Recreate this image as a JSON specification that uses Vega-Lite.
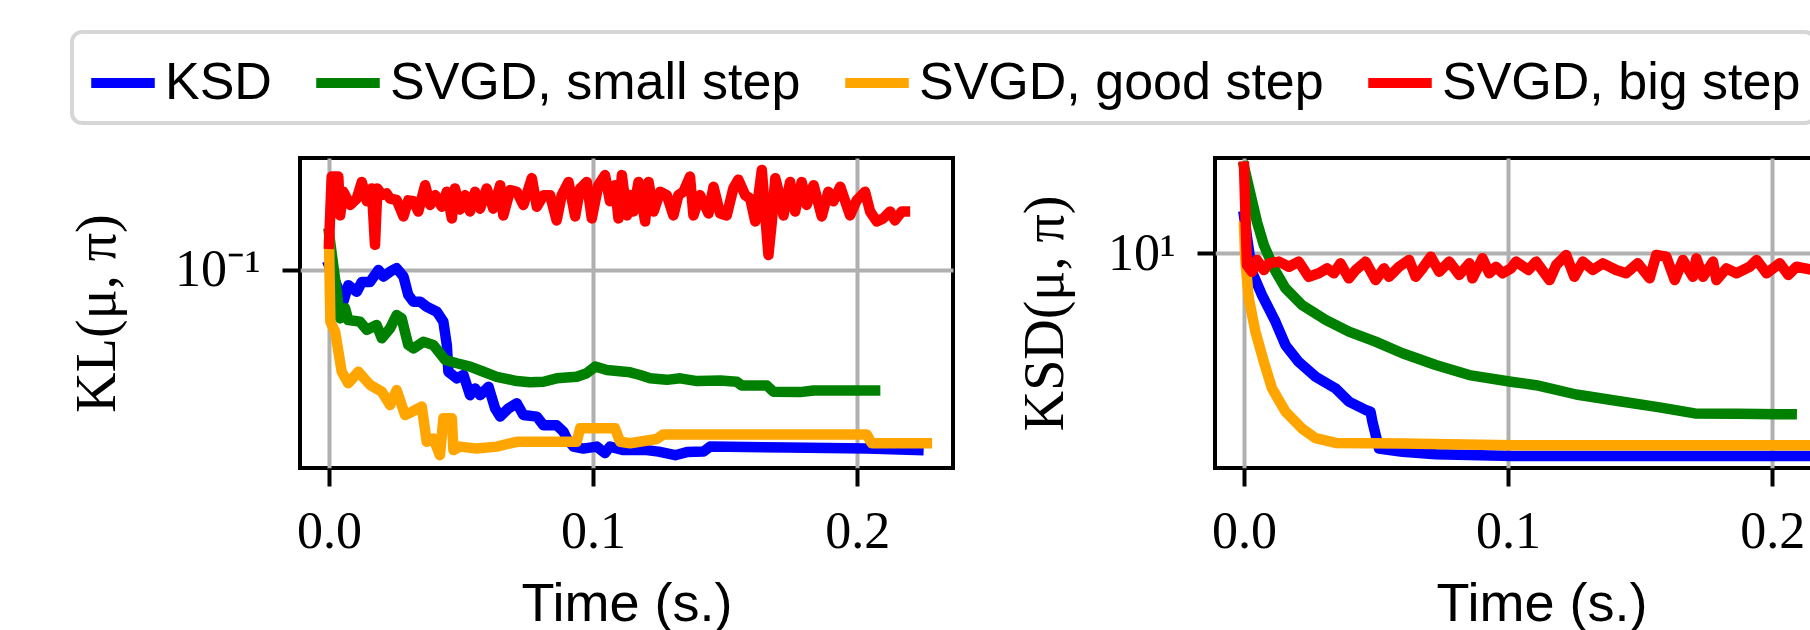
{
"$schema": "https://vega.github.io/schema/vega-lite/v6.json",
"background": "white",
"padding": {"left": 67, "top": 30, "right": -59, "bottom": 0},
"datasets": {
"kl": [
{"s":"KSD","t":0,"v":0.103},{"s":"KSD","t":0.0054,"v":0.0803},{"s":"KSD","t":0.0073,"v":0.090},{"s":"KSD","t":0.0105,"v":0.086},{"s":"KSD","t":0.0124,"v":0.092},{"s":"KSD","t":0.0155,"v":0.092},{"s":"KSD","t":0.0187,"v":0.100},{"s":"KSD","t":0.0206,"v":0.0955},{"s":"KSD","t":0.0231,"v":0.0988},{"s":"KSD","t":0.0256,"v":0.1012},{"s":"KSD","t":0.0282,"v":0.0955},{"s":"KSD","t":0.030,"v":0.0841},{"s":"KSD","t":0.0319,"v":0.0803},{"s":"KSD","t":0.0345,"v":0.0803},{"s":"KSD","t":0.037,"v":0.0775},{"s":"KSD","t":0.0408,"v":0.0749},{"s":"KSD","t":0.0433,"v":0.0699},{"s":"KSD","t":0.0446,"v":0.0595},{"s":"KSD","t":0.0452,"v":0.0494},{"s":"KSD","t":0.0484,"v":0.0472},{"s":"KSD","t":0.0509,"v":0.0483},{"s":"KSD","t":0.0534,"v":0.0420},{"s":"KSD","t":0.0553,"v":0.0440},{"s":"KSD","t":0.0572,"v":0.0420},{"s":"KSD","t":0.0604,"v":0.0445},{"s":"KSD","t":0.0629,"v":0.0383},{"s":"KSD","t":0.0648,"v":0.0362},{"s":"KSD","t":0.0679,"v":0.0383},{"s":"KSD","t":0.0711,"v":0.0397},{"s":"KSD","t":0.0736,"v":0.0366},{"s":"KSD","t":0.0787,"v":0.0362},{"s":"KSD","t":0.0812,"v":0.0341},{"s":"KSD","t":0.0862,"v":0.0341},{"s":"KSD","t":0.0888,"v":0.0326},{"s":"KSD","t":0.09,"v":0.0311},{"s":"KSD","t":0.0926,"v":0.0294},{"s":"KSD","t":0.0963,"v":0.0290},{"s":"KSD","t":0.1014,"v":0.0294},{"s":"KSD","t":0.1045,"v":0.0281},{"s":"KSD","t":0.1064,"v":0.0294},{"s":"KSD","t":0.1115,"v":0.0287},{"s":"KSD","t":0.1203,"v":0.0287},{"s":"KSD","t":0.1248,"v":0.0284},{"s":"KSD","t":0.1311,"v":0.0277},{"s":"KSD","t":0.1355,"v":0.0283},{"s":"KSD","t":0.1418,"v":0.0284},{"s":"KSD","t":0.1443,"v":0.0294},{"s":"KSD","t":0.1734,"v":0.0292},{"s":"KSD","t":0.2037,"v":0.0290},{"s":"KSD","t":0.2232,"v":0.0287},
{"s":"SVGD, small step","t":0,"v":0.129},{"s":"SVGD, small step","t":0.0029,"v":0.086},{"s":"SVGD, small step","t":0.0042,"v":0.0715},{"s":"SVGD, small step","t":0.0061,"v":0.0767},{"s":"SVGD, small step","t":0.0073,"v":0.0707},{"s":"SVGD, small step","t":0.0117,"v":0.0699},{"s":"SVGD, small step","t":0.0143,"v":0.0660},{"s":"SVGD, small step","t":0.018,"v":0.0683},{"s":"SVGD, small step","t":0.02,"v":0.0623},{"s":"SVGD, small step","t":0.0231,"v":0.0667},{"s":"SVGD, small step","t":0.0256,"v":0.0732},{"s":"SVGD, small step","t":0.0275,"v":0.0715},{"s":"SVGD, small step","t":0.030,"v":0.0595},{"s":"SVGD, small step","t":0.032,"v":0.0581},{"s":"SVGD, small step","t":0.0357,"v":0.0608},{"s":"SVGD, small step","t":0.0395,"v":0.0595},{"s":"SVGD, small step","t":0.044,"v":0.0536},{"s":"SVGD, small step","t":0.0484,"v":0.0524},{"s":"SVGD, small step","t":0.0534,"v":0.0512},{"s":"SVGD, small step","t":0.0585,"v":0.0494},{"s":"SVGD, small step","t":0.0635,"v":0.0477},{"s":"SVGD, small step","t":0.0711,"v":0.0463},{"s":"SVGD, small step","t":0.0761,"v":0.0459},{"s":"SVGD, small step","t":0.0812,"v":0.0461},{"s":"SVGD, small step","t":0.0862,"v":0.0472},{"s":"SVGD, small step","t":0.0938,"v":0.0477},{"s":"SVGD, small step","t":0.0976,"v":0.0489},{"s":"SVGD, small step","t":0.1008,"v":0.0512},{"s":"SVGD, small step","t":0.1052,"v":0.0500},{"s":"SVGD, small step","t":0.114,"v":0.0492},{"s":"SVGD, small step","t":0.1178,"v":0.0483},{"s":"SVGD, small step","t":0.1216,"v":0.0472},{"s":"SVGD, small step","t":0.1279,"v":0.0467},{"s":"SVGD, small step","t":0.133,"v":0.0472},{"s":"SVGD, small step","t":0.1394,"v":0.0463},{"s":"SVGD, small step","t":0.1482,"v":0.0465},{"s":"SVGD, small step","t":0.1544,"v":0.0461},{"s":"SVGD, small step","t":0.1563,"v":0.0449},{"s":"SVGD, small step","t":0.1658,"v":0.0449},{"s":"SVGD, small step","t":0.1683,"v":0.0430},{"s":"SVGD, small step","t":0.1784,"v":0.0429},{"s":"SVGD, small step","t":0.1835,"v":0.0434},{"s":"SVGD, small step","t":0.2068,"v":0.0434},
{"s":"SVGD, good step","t":0,"v":0.120},{"s":"SVGD, good step","t":0.0005,"v":0.0699},{"s":"SVGD, good step","t":0.0023,"v":0.0652},{"s":"SVGD, good step","t":0.0048,"v":0.0494},{"s":"SVGD, good step","t":0.0073,"v":0.0456},{"s":"SVGD, good step","t":0.0111,"v":0.0494},{"s":"SVGD, good step","t":0.0155,"v":0.0451},{"s":"SVGD, good step","t":0.02,"v":0.0430},{"s":"SVGD, good step","t":0.0231,"v":0.0392},{"s":"SVGD, good step","t":0.0256,"v":0.0435},{"s":"SVGD, good step","t":0.0288,"v":0.0366},{"s":"SVGD, good step","t":0.0313,"v":0.0374},{"s":"SVGD, good step","t":0.0351,"v":0.0388},{"s":"SVGD, good step","t":0.037,"v":0.0304},{"s":"SVGD, good step","t":0.0395,"v":0.0311},{"s":"SVGD, good step","t":0.042,"v":0.0277},{"s":"SVGD, good step","t":0.0433,"v":0.0358},{"s":"SVGD, good step","t":0.0465,"v":0.0358},{"s":"SVGD, good step","t":0.0471,"v":0.0287},{"s":"SVGD, good step","t":0.0496,"v":0.0294},{"s":"SVGD, good step","t":0.0559,"v":0.0290},{"s":"SVGD, good step","t":0.0635,"v":0.0294},{"s":"SVGD, good step","t":0.0711,"v":0.0304},{"s":"SVGD, good step","t":0.0938,"v":0.0304},{"s":"SVGD, good step","t":0.0951,"v":0.0334},{"s":"SVGD, good step","t":0.1083,"v":0.0334},{"s":"SVGD, good step","t":0.1102,"v":0.0304},{"s":"SVGD, good step","t":0.114,"v":0.0301},{"s":"SVGD, good step","t":0.1241,"v":0.0310},{"s":"SVGD, good step","t":0.1266,"v":0.0320},{"s":"SVGD, good step","t":0.2036,"v":0.0320},{"s":"SVGD, good step","t":0.2055,"v":0.0301},{"s":"SVGD, good step","t":0.2264,"v":0.0301},
{"s":"SVGD, big step","t":0,"v":0.120},{"s":"SVGD, big step","t":0.001,"v":0.191},{"s":"SVGD, big step","t":0.0035,"v":0.191},{"s":"SVGD, big step","t":0.0042,"v":0.146},{"s":"SVGD, big step","t":0.0054,"v":0.172},{"s":"SVGD, big step","t":0.008,"v":0.157},{"s":"SVGD, big step","t":0.0105,"v":0.164},{"s":"SVGD, big step","t":0.0124,"v":0.184},{"s":"SVGD, big step","t":0.0143,"v":0.161},{"s":"SVGD, big step","t":0.0162,"v":0.176},{"s":"SVGD, big step","t":0.0174,"v":0.119},{"s":"SVGD, big step","t":0.0183,"v":0.176},{"s":"SVGD, big step","t":0.020,"v":0.168},{"s":"SVGD, big step","t":0.0218,"v":0.170},{"s":"SVGD, big step","t":0.0231,"v":0.164},{"s":"SVGD, big step","t":0.0256,"v":0.1625},{"s":"SVGD, big step","t":0.0282,"v":0.145},{"s":"SVGD, big step","t":0.030,"v":0.162},{"s":"SVGD, big step","t":0.032,"v":0.161},{"s":"SVGD, big step","t":0.0338,"v":0.150},{"s":"SVGD, big step","t":0.0364,"v":0.180},{"s":"SVGD, big step","t":0.0383,"v":0.157},{"s":"SVGD, big step","t":0.0402,"v":0.168},{"s":"SVGD, big step","t":0.0427,"v":0.155},{"s":"SVGD, big step","t":0.0446,"v":0.172},{"s":"SVGD, big step","t":0.0465,"v":0.143},{"s":"SVGD, big step","t":0.0477,"v":0.176},{"s":"SVGD, big step","t":0.0496,"v":0.152},{"s":"SVGD, big step","t":0.0515,"v":0.168},{"s":"SVGD, big step","t":0.0534,"v":0.150},{"s":"SVGD, big step","t":0.0553,"v":0.172},{"s":"SVGD, big step","t":0.0572,"v":0.153},{"s":"SVGD, big step","t":0.0597,"v":0.176},{"s":"SVGD, big step","t":0.0622,"v":0.153},{"s":"SVGD, big step","t":0.0648,"v":0.180},{"s":"SVGD, big step","t":0.066,"v":0.146},{"s":"SVGD, big step","t":0.0686,"v":0.174},{"s":"SVGD, big step","t":0.0711,"v":0.172},{"s":"SVGD, big step","t":0.0736,"v":0.157},{"s":"SVGD, big step","t":0.0768,"v":0.189},{"s":"SVGD, big step","t":0.0787,"v":0.155},{"s":"SVGD, big step","t":0.0812,"v":0.168},{"s":"SVGD, big step","t":0.0837,"v":0.168},{"s":"SVGD, big step","t":0.0862,"v":0.141},{"s":"SVGD, big step","t":0.0881,"v":0.168},{"s":"SVGD, big step","t":0.0907,"v":0.184},{"s":"SVGD, big step","t":0.0932,"v":0.145},{"s":"SVGD, big step","t":0.0951,"v":0.176},{"s":"SVGD, big step","t":0.0976,"v":0.184},{"s":"SVGD, big step","t":0.0995,"v":0.143},{"s":"SVGD, big step","t":0.102,"v":0.180},{"s":"SVGD, big step","t":0.1045,"v":0.193},{"s":"SVGD, big step","t":0.1064,"v":0.161},{"s":"SVGD, big step","t":0.1083,"v":0.180},{"s":"SVGD, big step","t":0.1096,"v":0.143},{"s":"SVGD, big step","t":0.1109,"v":0.193},{"s":"SVGD, big step","t":0.1128,"v":0.146},{"s":"SVGD, big step","t":0.114,"v":0.168},{"s":"SVGD, big step","t":0.1153,"v":0.150},{"s":"SVGD, big step","t":0.1172,"v":0.184},{"s":"SVGD, big step","t":0.1197,"v":0.140},{"s":"SVGD, big step","t":0.121,"v":0.184},{"s":"SVGD, big step","t":0.1229,"v":0.150},{"s":"SVGD, big step","t":0.1254,"v":0.172},{"s":"SVGD, big step","t":0.1279,"v":0.168},{"s":"SVGD, big step","t":0.1304,"v":0.146},{"s":"SVGD, big step","t":0.1323,"v":0.168},{"s":"SVGD, big step","t":0.1342,"v":0.172},{"s":"SVGD, big step","t":0.1367,"v":0.191},{"s":"SVGD, big step","t":0.138,"v":0.146},{"s":"SVGD, big step","t":0.1405,"v":0.168},{"s":"SVGD, big step","t":0.1437,"v":0.148},{"s":"SVGD, big step","t":0.1456,"v":0.178},{"s":"SVGD, big step","t":0.1481,"v":0.148},{"s":"SVGD, big step","t":0.1506,"v":0.146},{"s":"SVGD, big step","t":0.1531,"v":0.176},{"s":"SVGD, big step","t":0.155,"v":0.187},{"s":"SVGD, big step","t":0.1576,"v":0.168},{"s":"SVGD, big step","t":0.1595,"v":0.164},{"s":"SVGD, big step","t":0.1614,"v":0.140},{"s":"SVGD, big step","t":0.1639,"v":0.200},{"s":"SVGD, big step","t":0.1652,"v":0.146},{"s":"SVGD, big step","t":0.1664,"v":0.111},{"s":"SVGD, big step","t":0.1677,"v":0.140},{"s":"SVGD, big step","t":0.169,"v":0.189},{"s":"SVGD, big step","t":0.1709,"v":0.164},{"s":"SVGD, big step","t":0.1721,"v":0.146},{"s":"SVGD, big step","t":0.1746,"v":0.184},{"s":"SVGD, big step","t":0.1765,"v":0.150},{"s":"SVGD, big step","t":0.179,"v":0.184},{"s":"SVGD, big step","t":0.1809,"v":0.157},{"s":"SVGD, big step","t":0.1835,"v":0.180},{"s":"SVGD, big step","t":0.1866,"v":0.145},{"s":"SVGD, big step","t":0.1891,"v":0.172},{"s":"SVGD, big step","t":0.191,"v":0.161},{"s":"SVGD, big step","t":0.1936,"v":0.178},{"s":"SVGD, big step","t":0.1973,"v":0.146},{"s":"SVGD, big step","t":0.1998,"v":0.162},{"s":"SVGD, big step","t":0.203,"v":0.172},{"s":"SVGD, big step","t":0.2049,"v":0.150},{"s":"SVGD, big step","t":0.2074,"v":0.140},{"s":"SVGD, big step","t":0.2099,"v":0.143},{"s":"SVGD, big step","t":0.2125,"v":0.150},{"s":"SVGD, big step","t":0.2143,"v":0.141},{"s":"SVGD, big step","t":0.2169,"v":0.150},{"s":"SVGD, big step","t":0.2181,"v":0.150}
],
"ksd": [
{"s":"KSD","t":0,"v":12.9},{"s":"KSD","t":0.003,"v":8.78},{"s":"KSD","t":0.0068,"v":7.47},{"s":"KSD","t":0.0119,"v":6.21},{"s":"KSD","t":0.0157,"v":5.28},{"s":"KSD","t":0.0207,"v":4.70},{"s":"KSD","t":0.0271,"v":4.24},{"s":"KSD","t":0.0347,"v":3.91},{"s":"KSD","t":0.0397,"v":3.57},{"s":"KSD","t":0.046,"v":3.37},{"s":"KSD","t":0.0479,"v":3.33},{"s":"KSD","t":0.0486,"v":3.11},{"s":"KSD","t":0.0511,"v":2.58},{"s":"KSD","t":0.06,"v":2.52},{"s":"KSD","t":0.0726,"v":2.48},{"s":"KSD","t":0.1017,"v":2.45},{"s":"KSD","t":0.2245,"v":2.45},
{"s":"SVGD, small step","t":0,"v":18.2},{"s":"SVGD, small step","t":0.0049,"v":12.4},{"s":"SVGD, small step","t":0.0075,"v":10.57},{"s":"SVGD, small step","t":0.0113,"v":8.99},{"s":"SVGD, small step","t":0.0157,"v":7.83},{"s":"SVGD, small step","t":0.022,"v":6.97},{"s":"SVGD, small step","t":0.0309,"v":6.29},{"s":"SVGD, small step","t":0.0397,"v":5.80},{"s":"SVGD, small step","t":0.0498,"v":5.41},{"s":"SVGD, small step","t":0.06,"v":4.99},{"s":"SVGD, small step","t":0.0726,"v":4.60},{"s":"SVGD, small step","t":0.0853,"v":4.29},{"s":"SVGD, small step","t":0.1017,"v":4.09},{"s":"SVGD, small step","t":0.1106,"v":4.00},{"s":"SVGD, small step","t":0.1258,"v":3.75},{"s":"SVGD, small step","t":0.1422,"v":3.58},{"s":"SVGD, small step","t":0.1574,"v":3.43},{"s":"SVGD, small step","t":0.1707,"v":3.29},{"s":"SVGD, small step","t":0.1865,"v":3.28},{"s":"SVGD, small step","t":0.2074,"v":3.27},
{"s":"SVGD, good step","t":0,"v":12.0},{"s":"SVGD, good step","t":0.0005,"v":9.5},{"s":"SVGD, good step","t":0.0018,"v":7.30},{"s":"SVGD, good step","t":0.0043,"v":5.80},{"s":"SVGD, good step","t":0.0075,"v":4.70},{"s":"SVGD, good step","t":0.0106,"v":3.91},{"s":"SVGD, good step","t":0.0157,"v":3.33},{"s":"SVGD, good step","t":0.022,"v":2.96},{"s":"SVGD, good step","t":0.0271,"v":2.77},{"s":"SVGD, good step","t":0.0347,"v":2.68},{"s":"SVGD, good step","t":0.06,"v":2.67},{"s":"SVGD, good step","t":0.1017,"v":2.64},{"s":"SVGD, good step","t":0.2245,"v":2.64},
{"s":"SVGD, big step","t":0,"v":18.2},{"s":"SVGD, big step","t":0.0011,"v":9.20},{"s":"SVGD, big step","t":0.003,"v":8.78},{"s":"SVGD, big step","t":0.0049,"v":9.53},{"s":"SVGD, big step","t":0.0075,"v":8.89},{"s":"SVGD, big step","t":0.0094,"v":9.31},{"s":"SVGD, big step","t":0.0132,"v":9.42},{"s":"SVGD, big step","t":0.017,"v":9.09},{"s":"SVGD, big step","t":0.0207,"v":9.42},{"s":"SVGD, big step","t":0.0245,"v":8.48},{"s":"SVGD, big step","t":0.0283,"v":8.69},{"s":"SVGD, big step","t":0.0315,"v":8.99},{"s":"SVGD, big step","t":0.034,"v":8.69},{"s":"SVGD, big step","t":0.0365,"v":9.31},{"s":"SVGD, big step","t":0.0397,"v":8.39},{"s":"SVGD, big step","t":0.0423,"v":8.89},{"s":"SVGD, big step","t":0.046,"v":9.42},{"s":"SVGD, big step","t":0.0498,"v":8.29},{"s":"SVGD, big step","t":0.053,"v":8.99},{"s":"SVGD, big step","t":0.0549,"v":8.48},{"s":"SVGD, big step","t":0.0587,"v":9.09},{"s":"SVGD, big step","t":0.0625,"v":9.53},{"s":"SVGD, big step","t":0.065,"v":8.48},{"s":"SVGD, big step","t":0.0676,"v":8.99},{"s":"SVGD, big step","t":0.0707,"v":9.75},{"s":"SVGD, big step","t":0.0739,"v":8.78},{"s":"SVGD, big step","t":0.0777,"v":9.42},{"s":"SVGD, big step","t":0.0815,"v":8.59},{"s":"SVGD, big step","t":0.0853,"v":9.31},{"s":"SVGD, big step","t":0.0865,"v":8.39},{"s":"SVGD, big step","t":0.0903,"v":9.64},{"s":"SVGD, big step","t":0.0929,"v":8.69},{"s":"SVGD, big step","t":0.0954,"v":9.09},{"s":"SVGD, big step","t":0.0979,"v":8.69},{"s":"SVGD, big step","t":0.1011,"v":8.99},{"s":"SVGD, big step","t":0.103,"v":9.42},{"s":"SVGD, big step","t":0.1077,"v":8.89},{"s":"SVGD, big step","t":0.1106,"v":9.42},{"s":"SVGD, big step","t":0.1157,"v":8.29},{"s":"SVGD, big step","t":0.1182,"v":9.20},{"s":"SVGD, big step","t":0.122,"v":9.86},{"s":"SVGD, big step","t":0.1251,"v":8.48},{"s":"SVGD, big step","t":0.1283,"v":9.42},{"s":"SVGD, big step","t":0.1321,"v":8.89},{"s":"SVGD, big step","t":0.1359,"v":9.31},{"s":"SVGD, big step","t":0.1409,"v":8.89},{"s":"SVGD, big step","t":0.1447,"v":8.69},{"s":"SVGD, big step","t":0.1491,"v":9.31},{"s":"SVGD, big step","t":0.1536,"v":8.39},{"s":"SVGD, big step","t":0.1561,"v":9.86},{"s":"SVGD, big step","t":0.1599,"v":9.75},{"s":"SVGD, big step","t":0.1631,"v":8.29},{"s":"SVGD, big step","t":0.1662,"v":9.53},{"s":"SVGD, big step","t":0.17,"v":8.48},{"s":"SVGD, big step","t":0.1713,"v":9.64},{"s":"SVGD, big step","t":0.1738,"v":8.48},{"s":"SVGD, big step","t":0.1776,"v":9.42},{"s":"SVGD, big step","t":0.1789,"v":8.29},{"s":"SVGD, big step","t":0.1827,"v":8.99},{"s":"SVGD, big step","t":0.1865,"v":8.69},{"s":"SVGD, big step","t":0.1915,"v":9.09},{"s":"SVGD, big step","t":0.1941,"v":9.53},{"s":"SVGD, big step","t":0.1979,"v":8.69},{"s":"SVGD, big step","t":0.2029,"v":9.31},{"s":"SVGD, big step","t":0.2061,"v":8.59},{"s":"SVGD, big step","t":0.2092,"v":9.09},{"s":"SVGD, big step","t":0.2155,"v":8.89},{"s":"SVGD, big step","t":0.22,"v":9.0},{"s":"SVGD, big step","t":0.2245,"v":8.9}
]
},
"spacing": 262,
"bounds": "flush",
"hconcat": [
{
"data": {"name": "kl"},
"width": 653,
"height": 310,
"mark": {"type": "line", "strokeWidth": 10.5, "strokeJoin": "round", "strokeCap": "square", "clip": true},
"encoding": {
"x": {"field": "t", "type": "quantitative", "scale": {"domain": [-0.011, 0.2363], "nice": false, "zero": false}, "axis": {"values": [0, 0.1, 0.2], "format": ".1f", "title": "Time (s.)"}},
"y": {"field": "v", "type": "quantitative", "scale": {"type": "log", "domain": [0.02535, 0.2173], "nice": false}, "axis": {"values": [0.1], "labelExpr": "'10⁻¹'", "title": "KL(μ, π)", "minExtent": 150, "maxExtent": 150, "titlePadding": 24}},
"color": {"field": "s", "type": "nominal", "scale": {"domain": ["KSD", "SVGD, small step", "SVGD, good step", "SVGD, big step"], "range": ["#0000ff", "#008000", "#ffa500", "#ff0000"]}, "legend": {"title": null, "orient": "none", "legendX": -228, "legendY": -126, "direction": "horizontal", "columns": 4}}
}
},
{
"data": {"name": "ksd"},
"width": 653,
"height": 310,
"mark": {"type": "line", "strokeWidth": 10.5, "strokeJoin": "round", "strokeCap": "square", "clip": true},
"encoding": {
"x": {"field": "t", "type": "quantitative", "scale": {"domain": [-0.011, 0.2363], "nice": false, "zero": false}, "axis": {"values": [0, 0.1, 0.2], "format": ".1f", "title": "Time (s.)"}},
"y": {"field": "v", "type": "quantitative", "scale": {"type": "log", "domain": [2.253, 19.32], "nice": false}, "axis": {"values": [10], "labelExpr": "'10¹'", "title": "KSD(μ, π)", "minExtent": 117, "maxExtent": 117, "titlePadding": 24}},
"color": {"field": "s", "type": "nominal", "scale": {"domain": ["KSD", "SVGD, small step", "SVGD, good step", "SVGD, big step"], "range": ["#0000ff", "#008000", "#ffa500", "#ff0000"]}, "legend": {"title": null, "orient": "none", "legendX": -228, "legendY": -126, "direction": "horizontal", "columns": 4}}
}
}
],
"resolve": {"scale": {"color": "shared"}},
"config": {
"view": {"stroke": "black", "strokeWidth": 4},
"axis": {"grid": true, "gridColor": "#b0b0b0", "gridWidth": 4, "domain": false, "ticks": true, "tickColor": "black", "tickWidth": 4, "tickSize": 18, "labelFont": "Liberation Serif", "labelFontSize": 52, "labelColor": "black", "labelFlush": false, "labelOverlap": false, "titleFontWeight": "normal", "titleColor": "black"},
"axisX": {"labelPadding": 20, "titleFont": "Liberation Sans", "titleFontSize": 54, "titlePadding": 20},
"axisY": {"labelPadding": 22, "titleFont": "Liberation Serif", "titleFontSize": 56},
"legend": {"symbolType": "stroke", "symbolSize": 4035, "symbolStrokeWidth": 10, "labelFont": "Liberation Sans", "labelFontSize": 52, "labelColor": "black", "labelLimit": 700, "labelOffset": 5, "columnPadding": 24, "padding": 14, "strokeColor": "#d6d6d6", "strokeWidth": 4, "cornerRadius": 10, "fillColor": "white"}
}
}
